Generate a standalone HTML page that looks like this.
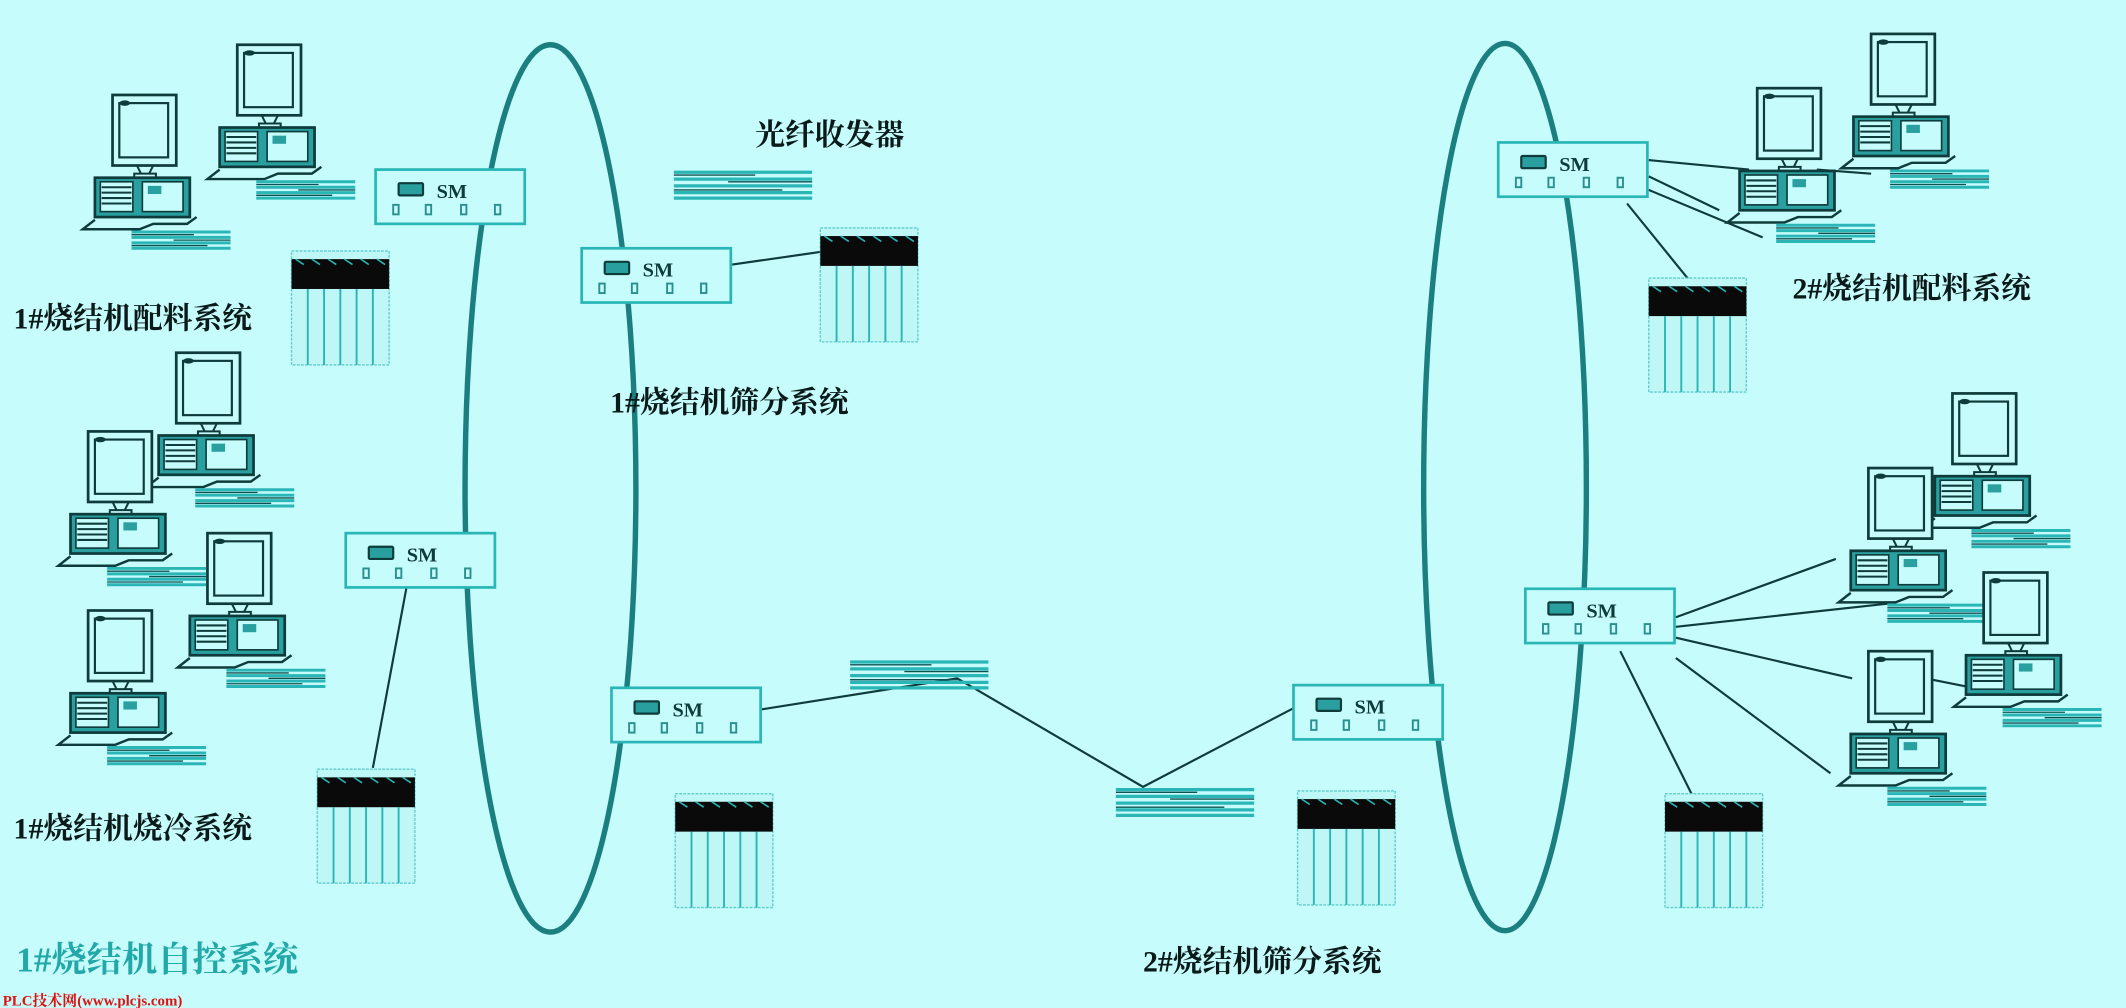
<!DOCTYPE html>
<html><head><meta charset="utf-8"><style>
html,body{margin:0;padding:0;background:#c6fcfb;}
svg{display:block}
text{font-family:"Liberation Serif","Noto Serif CJK SC","Noto Sans CJK SC",serif;}
</style></head><body>
<svg width="2126" height="1008" viewBox="0 0 1568 743" preserveAspectRatio="none" xmlns="http://www.w3.org/2000/svg">
<defs>
<g id="pc">
  <rect x="0" y="0" width="47" height="52" fill="#c6fcfb" stroke="#0e3b3b" stroke-width="2"/>
  <rect x="5" y="6" width="36" height="40" fill="none" stroke="#0e3b3b" stroke-width="1.6"/>
  <ellipse cx="9" cy="6" rx="4" ry="2" fill="#0e3b3b"/>
  <path d="M18 52 L30 52 L27 58 L21 58 Z M16 58 H32 V61 H16 Z" fill="none" stroke="#0e3b3b" stroke-width="1.5"/>
  <rect x="-13" y="61" width="70" height="29" fill="#2a9f9f" stroke="#0e3b3b" stroke-width="2"/>
  <rect x="-9" y="64" width="24" height="22" fill="#c6fcfb" stroke="#0e3b3b" stroke-width="1.2"/>
  <path d="M-8 68 H14 M-8 72 H14 M-8 76 H14 M-8 80 H14" stroke="#0e3b3b" stroke-width="1.5"/>
  <rect x="22" y="64" width="30" height="22" fill="#c6fcfb" stroke="#0e3b3b" stroke-width="1.2"/>
  <rect x="26" y="67" width="10" height="6" fill="#2a9f9f"/>
  <path d="M-13 92 L-22 99 L20 99 L30 95 L55 95 L62 90" fill="none" stroke="#0e3b3b" stroke-width="1.8"/>
  <path d="M14 101 H87 M14 105 H87 M14 109 H87 M14 113 H87" stroke="#2ab6b6" stroke-width="2.2"/>
  <path d="M14 103 H60 M45 107 H87 M14 111 H70" stroke="#0e5050" stroke-width="1"/>
</g>
<g id="sm">
  <rect x="0" y="0" width="110" height="40" fill="#c6fcfb" stroke="#2ab6b6" stroke-width="2"/>
  <rect x="17" y="10" width="18" height="9" rx="1" fill="#2a9f9f" stroke="#0e3b3b" stroke-width="1.6"/>
  <text x="45" y="21" font-size="15" font-weight="bold" fill="#0e3b3b">SM</text>
  <g fill="none" stroke="#2a8f8f" stroke-width="1.4">
    <rect x="13" y="26" width="4" height="7"/><rect x="37" y="26" width="4" height="7"/>
    <rect x="63" y="26" width="4" height="7"/><rect x="88" y="26" width="4" height="7"/>
  </g>
</g>
<g id="plc">
  <rect x="0" y="0" width="72" height="84" fill="#bff6f6" stroke="#5ccccc" stroke-width="1" stroke-dasharray="2 1"/>
  <rect x="0" y="6" width="72" height="22" fill="#0a0a0a"/>
  <path d="M3 6 l6 4 M15 6 l6 4 M27 6 l6 4 M39 6 l6 4 M51 6 l6 4 M63 6 l6 4" stroke="#2ab6b6" stroke-width="1.2"/>
  <path d="M12 28 V84 M24 28 V84 M36 28 V84 M48 28 V84 M60 28 V84" stroke="#2ab6b6" stroke-width="1.4"/>
</g>
<g id="fx">
  <path d="M0 2 H102 M0 7 H102 M0 12 H102 M0 17 H102 M0 21 H102" stroke="#2ab6b6" stroke-width="2.4"/>
  <path d="M0 4 H60 M40 9 H102 M0 15 H80" stroke="#0e5050" stroke-width="1"/>
</g>
</defs>

<ellipse cx="406" cy="360" rx="63" ry="327" fill="none" stroke="#1b7f7f" stroke-width="4"/>
<ellipse cx="1110" cy="359" rx="60" ry="327" fill="none" stroke="#1b7f7f" stroke-width="4"/>

<g stroke="#0e3b3b" stroke-width="1.6" fill="none">
  <path d="M540 195 L610 185"/>
  <path d="M561 523 L706 500 L843 580 L954 522"/>
  <path d="M300 432 L275 566"/>
  <path d="M1216 118 L1290 125 M1216 130 L1268 155 M1216 140 L1300 175 M1200 150 L1247 208 M1340 125 L1380 128"/>
  <path d="M1236 455 L1354 412 M1236 462 L1392 445 M1236 470 L1366 500 M1236 485 L1350 570 M1195 480 L1250 590 M1420 500 L1480 512"/>
</g>

<use href="#sm" x="277" y="125"/>
<use href="#sm" x="429" y="183"/>
<use href="#sm" x="255" y="393"/>
<use href="#sm" x="451" y="507"/>
<use href="#sm" x="954" y="505"/>
<use href="#sm" x="1105" y="105"/>
<use href="#sm" x="1125" y="434"/>

<use href="#fx" x="497" y="125"/>
<use href="#fx" x="627" y="486"/>
<use href="#fx" x="823" y="580"/>

<use href="#plc" x="215" y="185"/>
<use href="#plc" x="605" y="168"/>
<use href="#plc" x="234" y="567"/>
<use href="#plc" x="498" y="585"/>
<use href="#plc" x="957" y="583"/>
<use href="#plc" x="1216" y="205"/>
<use href="#plc" x="1228" y="585"/>

<use href="#pc" x="83" y="70"/>
<use href="#pc" x="175" y="33"/>
<use href="#pc" x="130" y="260"/>
<use href="#pc" x="65" y="318"/>
<use href="#pc" x="153" y="393"/>
<use href="#pc" x="65" y="450"/>
<use href="#pc" x="1296" y="65"/>
<use href="#pc" x="1380" y="25"/>
<use href="#pc" x="1440" y="290"/>
<use href="#pc" x="1378" y="345"/>
<use href="#pc" x="1463" y="422"/>
<use href="#pc" x="1378" y="480"/>

<g fill="#0a1a1a" font-size="22" font-weight="bold">
  <text x="557" y="107">光纤收发器</text>
  <text x="10" y="242">1#烧结机配料系统</text>
  <text x="450" y="304">1#烧结机筛分系统</text>
  <text x="10" y="618">1#烧结机烧冷系统</text>
  <text x="843" y="716">2#烧结机筛分系统</text>
  <text x="1322" y="220">2#烧结机配料系统</text>
</g>
<text x="12" y="716" font-size="26" font-weight="bold" fill="#22a8a8">1#烧结机自控系统</text>
<text x="2" y="741" font-size="11" font-weight="bold" fill="#e01010">PLC技术网(www.plcjs.com)</text>
</svg>
</body></html>
